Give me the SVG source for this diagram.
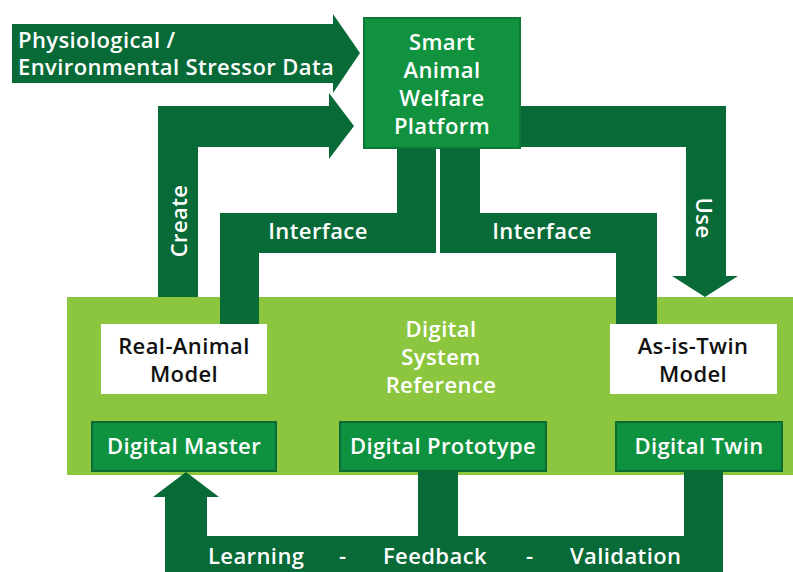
<svg xmlns="http://www.w3.org/2000/svg" width="793" height="572" viewBox="0 0 793 572">
<style>
.t{font-family:"Open Sans","Lato","Liberation Sans",sans-serif;font-weight:600;font-size:22px;letter-spacing:0.4px;fill:#fff}
.c{text-anchor:middle}
.k{fill:#111}
.con{fill:#076a37}
.dbox{fill:#0f9240;stroke:#0b6c33;stroke-width:2}
</style>
<rect width="793" height="572" fill="#fff"/>
<g id="digital-system-reference">
<rect x="67" y="297" width="726" height="178" fill="#8cc63f"/>
<text class="t c" x="441" y="337">Digital</text>
<text class="t c" x="441" y="365">System</text>
<text class="t c" x="441" y="393">Reference</text>
</g>
<g id="connectors">
<path class="con" d="M12,24H333V14L360,53L333,93V83H12Z"/>
<path class="con" d="M158,297V106H329V93L354,126L329,159V147H198V297Z"/>
<path class="con" d="M397,140H436V253H259V324H220V213H397Z"/>
<path class="con" d="M440,140H480V213H657V324H616V253H440Z"/>
<path class="con" d="M515,106H726V276H738L705,297L672,276H686V147H515Z"/>
<path class="con" d="M165,572V497H153L186,472L219,497H207V536H418V470H458V536H684V470H723V572Z"/>
<text class="t" x="18" y="48">Physiological /</text>
<text class="t" x="18" y="75">Environmental Stressor Data</text>
<text class="t c" transform="translate(187,221) rotate(-90)">Create</text>
<text class="t c" transform="translate(696,218) rotate(90)">Use</text>
<text class="t c" x="318" y="239">Interface</text>
<text class="t c" x="542" y="239">Interface</text>
<text class="t" x="208" y="564">Learning</text>
<text class="t" x="339" y="564">-</text>
<text class="t" x="383" y="564">Feedback</text>
<text class="t" x="526" y="564">-</text>
<text class="t" x="570" y="564">Validation</text>
</g>
<g id="smart-animal-welfare-platform">
<rect x="364" y="18" width="156" height="130" fill="#10923f" stroke="#0c7a36" stroke-width="2"/>
<text class="t c" x="442" y="50">Smart</text>
<text class="t c" x="442" y="78">Animal</text>
<text class="t c" x="442" y="106">Welfare</text>
<text class="t c" x="442" y="134">Platform</text>
</g>
<g id="real-animal-model">
<rect x="101" y="324" width="166" height="70" fill="#fff"/>
<text class="t c k" x="184" y="354">Real-Animal</text>
<text class="t c k" x="184" y="382">Model</text>
</g>
<g id="as-is-twin-model">
<rect x="610" y="324" width="167" height="70" fill="#fff"/>
<text class="t c k" x="693" y="354">As-is-Twin</text>
<text class="t c k" x="693" y="382">Model</text>
</g>
<g id="digital-master">
<rect class="dbox" x="92" y="422" width="184" height="49"/>
<text class="t c" x="184" y="454">Digital Master</text>
</g>
<g id="digital-prototype">
<rect class="dbox" x="340" y="422" width="206" height="49"/>
<text class="t c" x="443" y="454">Digital Prototype</text>
</g>
<g id="digital-twin">
<rect class="dbox" x="616" y="422" width="166" height="49"/>
<text class="t c" x="699" y="454">Digital Twin</text>
</g>
</svg>
